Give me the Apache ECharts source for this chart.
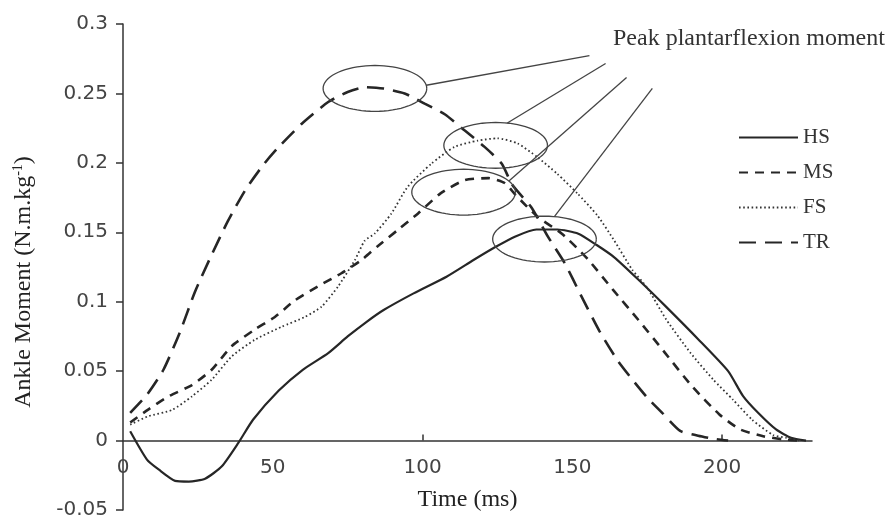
<!DOCTYPE html>
<html>
<head>
<meta charset="utf-8">
<script src="https://cdn.jsdelivr.net/npm/echarts@6/dist/echarts.min.js"></script>
<style>
  html, body { margin: 0; padding: 0; background: #ffffff; }
  #chart { width: 888px; height: 518px; }
</style>
</head>
<body>
<div id="chart"></div>
<script>
// ---------------- data ----------------
const seriesNames = ['HS', 'MS', 'FS', 'TR'];

const timeHS   = [2.4, 8, 12, 17.4, 22, 27.4, 33, 38.5, 43.4, 52, 60, 68.5, 75, 81, 87, 97, 108, 117, 124, 131, 138, 145, 152, 158, 164, 172, 181, 192, 202, 207, 212, 218, 223, 228];
const momentHS = [0.0067, -0.0137, -0.021, -0.029, -0.0295, -0.0275, -0.0185, -0.0017, 0.015, 0.036, 0.051, 0.063, 0.075, 0.085, 0.094, 0.106, 0.118, 0.13, 0.139, 0.147, 0.152, 0.152, 0.149, 0.141, 0.132, 0.116, 0.097, 0.073, 0.05, 0.032, 0.02, 0.008, 0.002, 0];

const timeMS   = [2.4, 8.4, 15, 23, 29.6, 36.3, 44, 50.7, 57.4, 65, 72.9, 79.6, 85, 91.7, 98.5, 106, 114, 122, 127.4, 131, 138.5, 146.5, 155, 163.6, 172, 181, 190, 199, 206, 214, 220, 225];
const momentMS = [0.013, 0.0223, 0.0316, 0.04, 0.051, 0.068, 0.08, 0.089, 0.101, 0.111, 0.1205, 0.13, 0.14, 0.1516, 0.1636, 0.178, 0.1875, 0.189, 0.1855, 0.177, 0.161, 0.149, 0.131, 0.1085, 0.087, 0.063, 0.039, 0.019, 0.008, 0.003, 0.001, 0];

const timeFS   = [2.4, 8.4, 16.3, 23, 29.6, 36.3, 44, 53, 60.7, 66.3, 71.8, 77.4, 80.7, 84, 89.6, 95, 103, 110.7, 118.4, 125, 131.7, 138.4, 145, 151.7, 158.4, 164, 170, 175, 181.4, 189.5, 197, 203.6, 210, 217, 221.5, 226];
const momentFS = [0.0115, 0.0175, 0.022, 0.0318, 0.0438, 0.0606, 0.0726, 0.082, 0.089, 0.0965, 0.111, 0.13, 0.144, 0.149, 0.1635, 0.1827, 0.1995, 0.2115, 0.216, 0.2177, 0.214, 0.204, 0.192, 0.178, 0.162, 0.144, 0.123, 0.11, 0.087, 0.063, 0.044, 0.0295, 0.015, 0.004, 0.002, 0];

const timeTR   = [2.4, 8, 13.5, 19, 24, 29, 35, 41, 47, 52, 59.6, 68.5, 75, 81, 87, 94, 100.7, 107.4, 114, 120.7, 126.4, 130, 136.3, 141.8, 147.4, 153, 159, 165, 170, 175, 180, 186, 192, 198, 202];
const momentTR = [0.02, 0.033, 0.051, 0.078, 0.107, 0.131, 0.158, 0.181, 0.199, 0.2115, 0.228, 0.2438, 0.251, 0.2545, 0.2535, 0.25, 0.2426, 0.235, 0.2234, 0.2115, 0.1995, 0.184, 0.168, 0.147, 0.128, 0.104, 0.079, 0.058, 0.044, 0.031, 0.02, 0.007, 0.0035, 0.001, 0];

// peak annotations (ellipse centres) and leader-line ends, in data units
const peakTime   = [84.1, 124.4, 113.7, 140.7];
const peakMoment = [0.2536, 0.2126, 0.1789, 0.1451];
const leaderTime   = [155.7, 161.1, 168.1, 176.7];
const leaderMoment = [0.2773, 0.2716, 0.2615, 0.2536];
const leaderAnchorDeg = [-8, -77, -29, -79];

const xTicks = [0, 50, 100, 150, 200];
const xTickMarks = [100, 200];
const yTicks = [-0.05, 0, 0.05, 0.1, 0.15, 0.2, 0.25, 0.3];
const annotationText = 'Peak plantarflexion moment';

// ---------------- chart ----------------
const zip = (a, b) => a.map((v, i) => [v, b[i]]);
const lineColor = '#262626';
const serif = '"Liberation Serif", "Times New Roman", serif';
const sans = '"DejaVu Sans", sans-serif';

const ellipseRadius = [17.3, 0.0165]; // data units

const W = 888, H = 518;
const gridTop = 24, gridBottom = 8;
const yMin = -0.05, yMax = 0.3;
const plotH = H - gridTop - gridBottom;
// move the x axis (line, ticks, labels, name) up from the grid bottom to y = 0
const zeroOffset = -plotH * (0 - yMin) / (yMax - yMin);

const chart = echarts.init(document.getElementById('chart'), null, { renderer: 'canvas' });

const annotationData = peakTime.map((t, i) => [t, peakMoment[i], leaderTime[i], leaderMoment[i], leaderAnchorDeg[i]]);

chart.setOption({
  animation: false,
  backgroundColor: '#ffffff',
  title: {
    text: annotationText,
    left: 608,
    top: 22,
    textStyle: { fontFamily: serif, fontSize: 24, fontWeight: 'normal', color: '#333' }
  },
  grid: { left: 123, right: 76, top: gridTop, bottom: gridBottom, containLabel: false, outerBoundsMode: 'none' },
  legend: {
    data: seriesNames,
    orient: 'vertical',
    left: 733,
    top: 122,
    itemWidth: 59,
    itemHeight: 14,
    itemGap: 14,
    itemStyle: { opacity: 0 },
    textStyle: { fontFamily: serif, fontSize: 21, color: '#333', lineHeight: 21 }
  },
  xAxis: {
    type: 'value',
    position: 'bottom',
    offset: zeroOffset,
    min: 0, max: 230, interval: 50,
    name: 'Time (ms)',
    nameLocation: 'middle',
    nameGap: 47,
    nameTextStyle: { fontFamily: serif, fontSize: 24, color: '#222' },
    axisLine: { onZero: false, lineStyle: { color: '#333', width: 1.5 } },
    axisTick: { show: true, inside: true, length: 6, customValues: xTickMarks, lineStyle: { color: '#333', width: 1.5 } },
    axisLabel: {
      fontFamily: sans, fontSize: 20, color: '#444', margin: 17,
      customValues: xTicks
    },
    splitLine: { show: false }
  },
  yAxis: {
    type: 'value',
    min: yMin, max: yMax, interval: 0.05,
    name: '{b|Ankle Moment (N.m.kg}{s|-1}{b|)}',
    nameLocation: 'middle',
    nameGap: 86,
    nameTextStyle: {
      padding: [0, 30, 0, 0],
      rich: {
        b: { fontFamily: serif, fontSize: 24, color: '#222', lineHeight: 26 },
        s: { fontFamily: serif, fontSize: 14, color: '#222', verticalAlign: 'top', lineHeight: 14 }
      }
    },
    axisLine: { show: true, onZero: false, lineStyle: { color: '#333', width: 1.5 } },
    axisTick: { show: true, length: 7, lineStyle: { color: '#333', width: 1.5 } },
    axisLabel: { fontFamily: sans, fontSize: 20, color: '#444', margin: 15 },
    splitLine: { show: false }
  },
  series: [
    {
      name: 'HS', type: 'line', data: zip(timeHS, momentHS),
      showSymbol: false, symbol: 'none', smooth: 0.2,
      lineStyle: { color: lineColor, width: 2.2, type: 'solid' },
      itemStyle: { color: lineColor }
    },
    {
      name: 'MS', type: 'line', data: zip(timeMS, momentMS),
      showSymbol: false, symbol: 'none', smooth: 0.2,
      lineStyle: { color: lineColor, width: 2.6, type: [9, 7] },
      itemStyle: { color: lineColor }
    },
    {
      name: 'FS', type: 'line', data: zip(timeFS, momentFS),
      showSymbol: false, symbol: 'none', smooth: 0.2,
      lineStyle: { color: '#333', width: 1.8, type: [1.6, 2.6] },
      itemStyle: { color: '#333' }
    },
    {
      name: 'TR', type: 'line', data: zip(timeTR, momentTR),
      showSymbol: false, symbol: 'none', smooth: 0.2,
      lineStyle: { color: lineColor, width: 2.6, type: [17, 9] },
      itemStyle: { color: lineColor }
    },
    {
      name: 'annotations',
      type: 'custom',
      clip: false,
      silent: true,
      data: annotationData,
      encode: { x: [0, 2], y: [1, 3] },
      z: 5,
      renderItem: function (params, api) {
        const c = api.coord([api.value(0), api.value(1)]);
        const end = api.coord([api.value(2), api.value(3)]);
        const sz = api.size(ellipseRadius, [api.value(0), api.value(1)]);
        const rx = sz[0], ry = sz[1];
        const pts = [];
        for (let k = 0; k <= 72; k++) {
          const a = (k / 72) * Math.PI * 2;
          pts.push([c[0] + rx * Math.cos(a), c[1] + ry * Math.sin(a)]);
        }
        const ang = api.value(4) * Math.PI / 180;
        const start = [c[0] + rx * Math.cos(ang), c[1] + ry * Math.sin(ang)];
        return {
          type: 'group',
          children: [
            { type: 'polyline', shape: { points: pts }, style: { stroke: '#444', lineWidth: 1.3, fill: null } },
            { type: 'line', shape: { x1: start[0], y1: start[1], x2: end[0], y2: end[1] }, style: { stroke: '#444', lineWidth: 1.3 } }
          ]
        };
      }
    }
  ]
});
</script>
</body>
</html>
